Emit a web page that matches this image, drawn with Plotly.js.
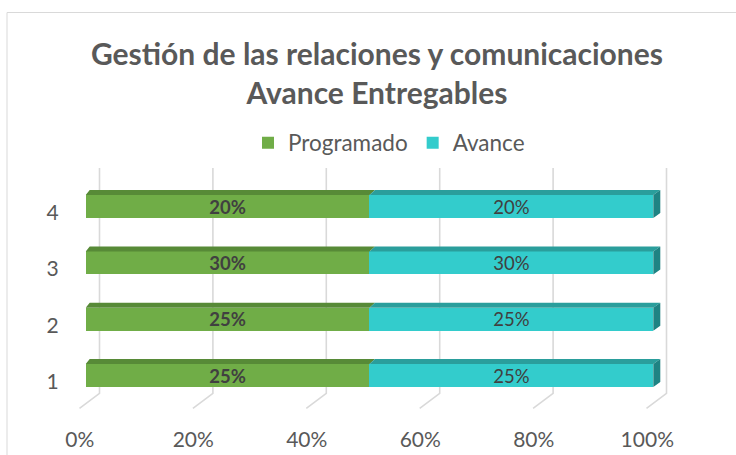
<!DOCTYPE html>
<html>
<head>
<meta charset="utf-8">
<script src="https://cdn.plot.ly/plotly-3.0.1.min.js"></script>
<style>html,body{margin:0;padding:0;background:#fff;}#chart{width:736px;height:455px;}</style>
</head>
<body>
<div id="chart"></div>
<script>
// ---- data ----
const categories = ['1', '2', '3', '4'];
const programado = [25, 25, 30, 20];
const avance = [25, 25, 30, 20];
const tickVals = [0, 20, 40, 60, 80, 100];
const tickText = ['0%', '20%', '40%', '60%', '80%', '100%'];
const seriesNames = ['Programado', 'Avance'];
const titleLines = ['Gestión de las relaciones y comunicaciones', 'Avance Entregables'];

// ---- helpers / styling ----
const W = 736, H = 455;
const px = v => v / W;
const py = v => 1 - v / H;
const FONT = 'Lato, "Open Sans", sans-serif';
const GREEN = '#70AD47', GREEN_TOP = '#578A37';
const CYAN = '#33CCCC', CYAN_TOP = '#2A9E9C', CYAN_SIDE = '#1F8383';
const GRID = '#D9D9D9';
const TXT = '#595959';

// bar subplot (x2/y2): 0% at 85.7px, 100% at 653.3px
const bx0 = 85.7, bx100 = 653.3, bppu = (bx100 - bx0) / 100;
const bXmax = 105;
const barDomainX = [px(bx0), px(bx0 + bppu * bXmax)];
const rowPx = 56.3, firstRowPx = 375.5;
const barDomainY = [py(firstRowPx + rowPx / 2), py(firstRowPx - 3 * rowPx - rowPx / 2)];
const barW = 23 / rowPx;
const depthY = 5 / rowPx;
const depthXL = 4 / bppu, depthXR = 7 / bppu;
const dxAt = x => depthXL + (depthXR - depthXL) * x / 100;

// gridline subplot (x/y): back wall 0% at 99.5px, 100% at 666.5px
const gx0 = 99.5, gppu = (666.5 - 99.5) / 100;
const gXmin = -5, gXmax = 102;
const gridDomainX = [px(gx0 + gXmin * gppu), px(gx0 + gXmax * gppu)];
const floorPx = 408.3;
const gYmin = -2, gYmax = 245;
const gridDomainY = [py(floorPx - gYmin), py(floorPx - gYmax)];
const wallBottom = 15, wallTop = 240.3;
const floorDx = 20 / gppu;

const traces = [];

// back-wall gridlines + floor lines
const gxs = [], gys = [];
tickVals.forEach(t => {
  gxs.push(t - floorDx, t, t, null);
  gys.push(0, wallBottom, wallTop, null);
});
traces.push({
  type: 'scatter', mode: 'lines', x: gxs, y: gys, xaxis: 'x', yaxis: 'y',
  line: {color: GRID, width: 1.6}, hoverinfo: 'skip', showlegend: false
});

const yIdx = categories.map((c, i) => i);
const totals = programado.map((v, i) => v + avance[i]);
const split = programado.map((v, i) => v / totals[i] * 100);

// front faces
traces.push({
  type: 'bar', orientation: 'h', name: seriesNames[0], x: programado, y: yIdx,
  xaxis: 'x2', yaxis: 'y2', width: barW, marker: {color: GREEN, line: {width: 0}},
  text: programado.map(v => v + '%'), textposition: 'inside', insidetextanchor: 'middle',
  constraintext: 'none', textangle: 0,
  textfont: {family: FONT, size: 18.5, color: '#404040', weight: 'bold'}, hoverinfo: 'skip'
});
traces.push({
  type: 'bar', orientation: 'h', name: seriesNames[1], x: avance, y: yIdx,
  xaxis: 'x2', yaxis: 'y2', width: barW, marker: {color: CYAN, line: {width: 0}},
  text: avance.map(v => v + '%'), textposition: 'inside', insidetextanchor: 'middle',
  constraintext: 'none', textangle: 0,
  textfont: {family: FONT, size: 18.5, color: '#404040'}, hoverinfo: 'skip'
});

// 3D top faces & right side
const gTopX = [], gTopY = [], cTopX = [], cTopY = [], sideX = [], sideY = [];
yIdx.forEach((y, i) => {
  const top = y + barW / 2, bot = y - barW / 2, s = split[i];
  gTopX.push(0, s, s + dxAt(s), dxAt(0), 0, null);
  gTopY.push(top, top, top + depthY, top + depthY, top, null);
  cTopX.push(s, 100, 100 + dxAt(100), s + dxAt(s), s, null);
  cTopY.push(top, top, top + depthY, top + depthY, top, null);
  sideX.push(100, 100, 100 + dxAt(100), 100 + dxAt(100), 100, null);
  sideY.push(bot, top, top + depthY, bot + depthY, bot, null);
});
[[gTopX, gTopY, GREEN_TOP], [cTopX, cTopY, CYAN_TOP], [sideX, sideY, CYAN_SIDE]].forEach(([xs, ys, c]) => {
  traces.push({
    type: 'scatter', mode: 'lines', x: xs, y: ys, xaxis: 'x2', yaxis: 'y2',
    fill: 'toself', fillcolor: c, line: {width: 0, color: c},
    hoverinfo: 'skip', showlegend: false
  });
});

const layout = {
  width: W, height: H,
  margin: {l: 0, r: 0, t: 0, b: 0},
  paper_bgcolor: '#FFFFFF', plot_bgcolor: 'rgba(0,0,0,0)',
  font: {family: FONT, color: TXT},
  barmode: 'stack', barnorm: 'percent', bargap: 0,
  title: {
    text: titleLines.join('<br>'),
    font: {family: FONT, size: 30, color: TXT, weight: 'bold'},
    x: px(377), xanchor: 'center', xref: 'paper',
    y: py(64.5), yanchor: 'top', yref: 'container'
  },
  showlegend: true,
  legend: {
    orientation: 'h', x: px(389), xanchor: 'center', y: py(143), yanchor: 'middle',
    font: {family: FONT, size: 22.5, color: TXT}, traceorder: 'normal',
    itemwidth: 30, bgcolor: 'rgba(0,0,0,0)'
  },
  xaxis: {domain: gridDomainX, range: [gXmin, gXmax], visible: false, fixedrange: true},
  yaxis: {domain: gridDomainY, range: [gYmin, gYmax], visible: false, fixedrange: true},
  xaxis2: {
    domain: barDomainX, range: [0, bXmax], anchor: 'y2',
    tickvals: tickVals, ticktext: tickText, showgrid: false, zeroline: false, showline: false,
    ticks: '', ticklabelshift: -6, ticklabelstandoff: 21,
    tickfont: {family: FONT, size: 21, color: TXT}, fixedrange: true
  },
  yaxis2: {
    domain: barDomainY, range: [-0.5, 3.5], anchor: 'x2',
    tickvals: yIdx, ticktext: categories, showgrid: false, zeroline: false, showline: false,
    ticks: '', ticklabelshift: 6, ticklabelstandoff: 26,
    tickfont: {family: FONT, size: 21, color: TXT}, fixedrange: true
  },
  shapes: [{
    type: 'rect', xref: 'paper', yref: 'paper',
    x0: px(7), x1: 1.2, y0: -0.2, y1: py(12.5),
    line: {color: GRID, width: 1}, fillcolor: 'rgba(0,0,0,0)', layer: 'below'
  }]
};

Plotly.newPlot('chart', traces, layout, {displayModeBar: false, staticPlot: true});
</script>
</body>
</html>
